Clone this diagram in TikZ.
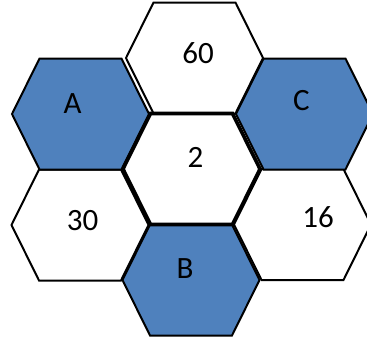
\documentclass[tikz,border=0pt]{standalone}
\usepackage{fontspec}
\setmainfont{Carlito}
\usetikzlibrary{calc}

\definecolor{cellblue}{HTML}{4F81BD}

\tikzset{
  cell/.style={draw=black, line width=2pt, fill=white},
  bluecell/.style={cell, fill=cellblue},
  midcell/.style={cell, line width=3.6pt},
  tag/.style={anchor=base, inner sep=0pt, font=\fontsize{31}{31}\selectfont}
}

% one hexagon around the current origin
\newcommand{\hexcell}{(-68.5,0) -- (-41,-55.5) -- (41,-55.5) -- (68.5,0) -- (41,55.5) -- (-41,55.5) -- cycle}

\begin{document}
\begin{tikzpicture}[x=1pt,y=-1pt]
\useasboundingbox (0,0) rectangle (367,343);
\clip (0,0) rectangle (367,343);

% centres of the cells
\coordinate (top) at (194.5,58);
\coordinate (cA) at (80.5,114);
\coordinate (cC) at (304.5,114);
\coordinate (mid) at (191.5,169);
\coordinate (left) at (80,225);
\coordinate (right) at (302.5,224.5);
\coordinate (cB) at (191,280);

% cells
\foreach \c/\kind in {top/cell, left/cell, right/cell, cA/bluecell, cC/bluecell, cB/bluecell}
  \draw[\kind, shift={(\c)}] \hexcell;
\draw[midcell, shift={(mid)}] \hexcell;

% labels
\node[tag] (t60) at (198,63.3) {60};
\node[tag] (tA) at (72.5,113) {A};
\node[tag] (tC) at (301.5,110) {C};
\node[tag] (t2) at (195.5,167) {2};
\node[tag] (t30) at (82.5,230) {30};
\node[tag] (t16) at (318,227) {16};
\node[tag] (tB) at (185,278) {B};

\end{tikzpicture}
\end{document}
